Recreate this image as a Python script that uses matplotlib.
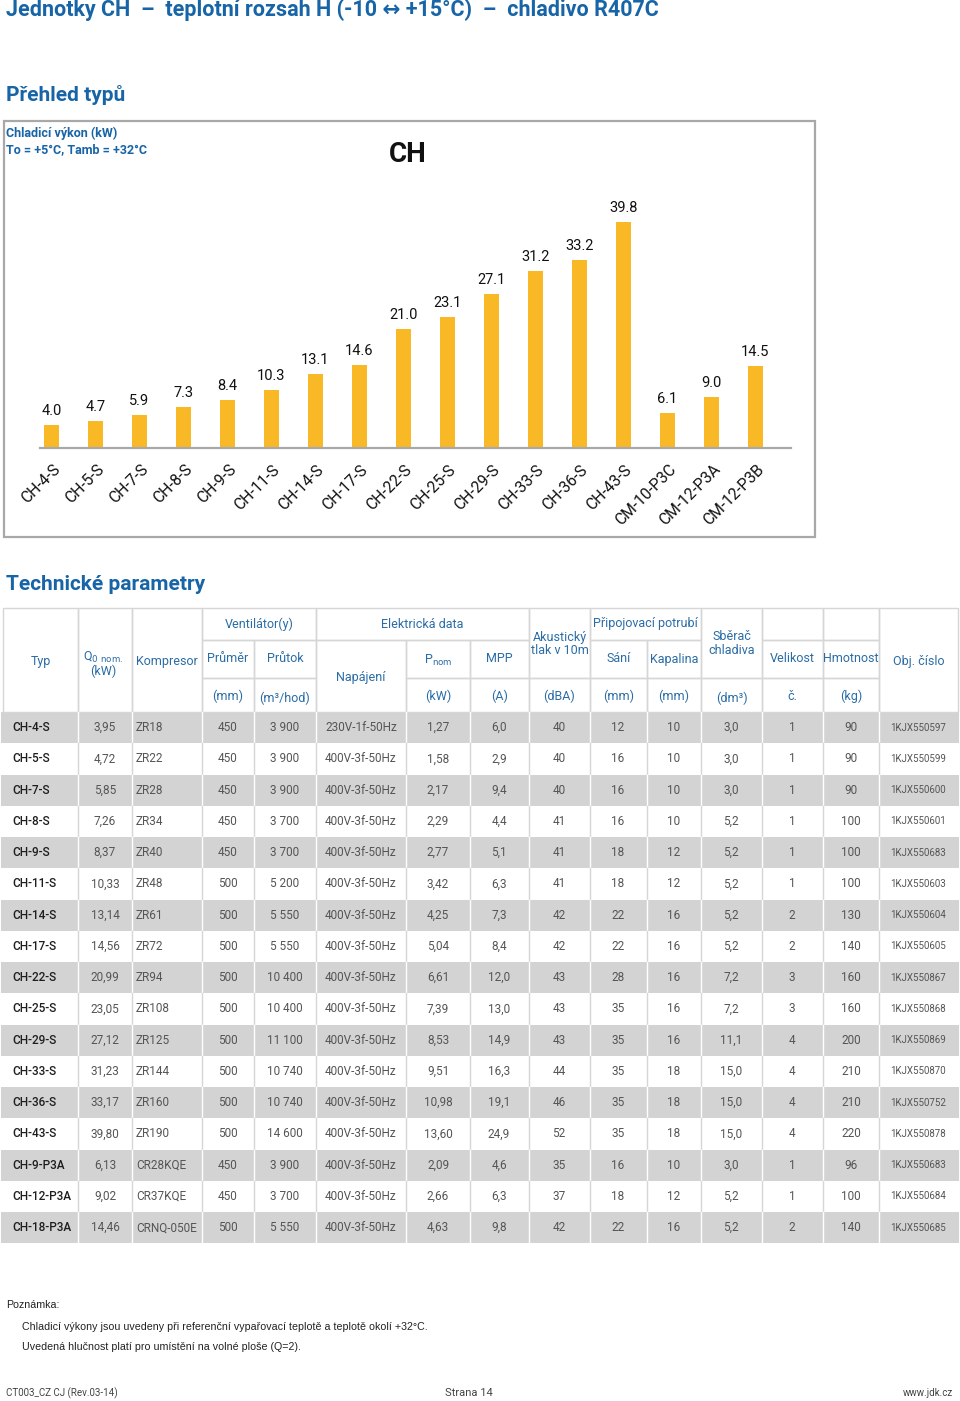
import matplotlib
matplotlib.use("Agg")
import matplotlib.pyplot as plt
from matplotlib.patches import Rectangle

plt.rcParams['font.family'] = ['Roboto', 'DejaVu Sans']

# --- bar chart data (Chladicí výkon, kW) ---
models = ['CH-4-S', 'CH-5-S', 'CH-7-S', 'CH-8-S', 'CH-9-S', 'CH-11-S', 'CH-14-S',
          'CH-17-S', 'CH-22-S', 'CH-25-S', 'CH-29-S', 'CH-33-S', 'CH-36-S',
          'CH-43-S', 'CM-10-P3C', 'CM-12-P3A', 'CM-12-P3B']
capacity = [4.0, 4.7, 5.9, 7.3, 8.4, 10.3, 13.1, 14.6, 21.0, 23.1, 27.1, 31.2,
            33.2, 39.8, 6.1, 9.0, 14.5]

# --- table data ---
typ = ['CH-4-S', 'CH-5-S', 'CH-7-S', 'CH-8-S', 'CH-9-S', 'CH-11-S', 'CH-14-S',
       'CH-17-S', 'CH-22-S', 'CH-25-S', 'CH-29-S', 'CH-33-S', 'CH-36-S',
       'CH-43-S', 'CH-9-P3A', 'CH-12-P3A', 'CH-18-P3A']
q0 = ['3,95', '4,72', '5,85', '7,26', '8,37', '10,33', '13,14', '14,56', '20,99',
      '23,05', '27,12', '31,23', '33,17', '39,80', '6,13', '9,02', '14,46']
kompresor = ['ZR18', 'ZR22', 'ZR28', 'ZR34', 'ZR40', 'ZR48', 'ZR61', 'ZR72', 'ZR94',
             'ZR108', 'ZR125', 'ZR144', 'ZR160', 'ZR190', 'CR28KQE', 'CR37KQE',
             'CRNQ-050E']
prumer = ['450', '450', '450', '450', '450', '500', '500', '500', '500', '500',
          '500', '500', '500', '500', '450', '450', '500']
prutok = ['3 900', '3 900', '3 900', '3 700', '3 700', '5 200', '5 550', '5 550',
          '10 400', '10 400', '11 100', '10 740', '10 740', '14 600', '3 900',
          '3 700', '5 550']
napajeni = ['230V-1f-50Hz'] + ['400V-3f-50Hz'] * 16
pnom = ['1,27', '1,58', '2,17', '2,29', '2,77', '3,42', '4,25', '5,04', '6,61',
        '7,39', '8,53', '9,51', '10,98', '13,60', '2,09', '2,66', '4,63']
mpp = ['6,0', '2,9', '9,4', '4,4', '5,1', '6,3', '7,3', '8,4', '12,0', '13,0',
       '14,9', '16,3', '19,1', '24,9', '4,6', '6,3', '9,8']
hluk = ['40', '40', '40', '41', '41', '41', '42', '42', '43', '43', '43', '44',
        '46', '52', '35', '37', '42']
sani = ['12', '16', '16', '16', '18', '18', '22', '22', '28', '35', '35', '35',
        '35', '35', '16', '18', '22']
kapalina = ['10', '10', '10', '10', '12', '12', '16', '16', '16', '16', '16', '18',
            '18', '18', '10', '12', '16']
sberac = ['3,0', '3,0', '3,0', '5,2', '5,2', '5,2', '5,2', '5,2', '7,2', '7,2',
          '11,1', '15,0', '15,0', '15,0', '3,0', '5,2', '5,2']
velikost = ['1', '1', '1', '1', '1', '1', '2', '2', '3', '3', '4', '4', '4', '4',
            '1', '1', '2']
hmotnost = ['90', '90', '90', '100', '100', '100', '130', '140', '160', '160', '200',
            '210', '210', '220', '96', '100', '140']
obj_cislo = ['1KJX550597', '1KJX550599', '1KJX550600', '1KJX550601', '1KJX550683',
             '1KJX550603', '1KJX550604', '1KJX550605', '1KJX550867', '1KJX550868',
             '1KJX550869', '1KJX550870', '1KJX550752', '1KJX550878', '1KJX550683',
             '1KJX550684', '1KJX550685']

BLUE = '#1764a6'
HEAD_BLUE = '#2a6ca6'
BAR = '#f9b826'
GRID = '#d6d6d6'

W, H = 960, 1401
fig = plt.figure(figsize=(W / 100, H / 100), dpi=100)
page = fig.add_axes([0, 0, 1, 1])
page.set_xlim(0, W)
page.set_ylim(H, 0)
page.axis('off')

# titles
page.text(6, 10, 'Jednotky CH  –  teplotní rozsah H (-10 ↔ +15°C)  –  chladivo R407C',
          color=BLUE, fontsize=15.5, fontweight='bold', fontstyle='normal',
          va='center', ha='left')
page.text(6, 95, 'Přehled typů', color=BLUE, fontsize=15, fontweight='bold',
          va='center', ha='left')
page.text(6, 585, 'Technické parametry', color=BLUE, fontsize=15, fontweight='bold',
          va='center', ha='left')

# chart frame
page.add_patch(Rectangle((4, 121), 811, 416, fill=False, ec='#a8a8a8', lw=1.6))
page.text(6, 133, 'Chladicí výkon (kW)', color=BLUE, fontsize=9, fontweight='bold',
          va='center')
page.text(6, 150, 'To = +5°C, Tamb = +32°C', color=BLUE, fontsize=9, fontweight='bold',
          va='center')
page.text(408, 155, 'CH', color='#111111', fontsize=20, fontweight='bold',
          ha='center', va='center')

# bar chart axes
base_y, top_y = 448, 200
left_px, right_px = 40, 791
ax = fig.add_axes([left_px / W, (H - base_y) / H, (right_px - left_px) / W,
                   (base_y - top_y) / H])
ax.patch.set_alpha(0)
x = list(range(len(models)))
ax.bar(x, capacity, width=0.34, color=BAR, zorder=2)
ax.set_xlim((left_px - 51.5) / 44.0, (right_px - 51.5) / 44.0)
ax.set_ylim(0, (base_y - top_y) / 5.67)
for s in ['top', 'right', 'left']:
    ax.spines[s].set_visible(False)
ax.spines['bottom'].set_color('#a8a8a8')
ax.spines['bottom'].set_linewidth(1.6)
ax.set_yticks([])
ax.set_xticks([])
for i, (m, v) in enumerate(zip(models, capacity)):
    ax.annotate(f'{v:.1f}', (i, v), xytext=(0, 5), textcoords='offset points',
                ha='center', va='bottom', fontsize=10.5, color='#111111')
    ax.annotate(m, (i, 0), xytext=(0.5, -10), textcoords='offset points',
                ha='right', va='top', rotation=45, rotation_mode='anchor',
                fontsize=11.3, color='#111111', annotation_clip=False)

# --- table ---
col_x = [3, 78, 132, 202, 254, 316, 406, 470, 529, 590, 647, 701, 762, 823, 879, 958]
hdr_y = [608, 640, 678, 712]
row_h = 31.25
n_rows = len(typ)

# data rows background
for r in range(n_rows):
    y0 = hdr_y[3] + r * row_h
    if r % 2 == 0:
        page.add_patch(Rectangle((1, y0), 958, row_h, fc='#d3d3d3', ec='none'))
    for cx in col_x[1:-1]:
        page.plot([cx, cx], [y0, y0 + row_h], color='white' if r % 2 == 0 else GRID,
                  lw=1)

# header cells: (col0, col1, row0, row1, text, ypos)
header_cells = [
    (0, 1, 0, 3, 'Typ', 661),
    (1, 2, 0, 3, None, None),
    (2, 3, 0, 3, 'Kompresor', 661),
    (3, 5, 0, 1, 'Ventilátor(y)', 624),
    (3, 4, 1, 2, 'Průměr', 659),
    (4, 5, 1, 2, 'Průtok', 659),
    (3, 4, 2, 3, '(mm)', 696),
    (4, 5, 2, 3, '(m³/hod)', 698),
    (5, 8, 0, 1, 'Elektrická data', 624),
    (5, 6, 1, 3, 'Napájení', 677),
    (6, 7, 1, 2, None, None),
    (7, 8, 1, 2, 'MPP', 659),
    (6, 7, 2, 3, '(kW)', 696),
    (7, 8, 2, 3, '(A)', 696),
    (8, 9, 0, 2, 'Akustický\ntlak v 10m', 644),
    (8, 9, 2, 3, '(dBA)', 696),
    (9, 11, 0, 1, 'Připojovací potrubí', 624),
    (9, 10, 1, 2, 'Sání', 659),
    (10, 11, 1, 2, 'Kapalina', 659),
    (9, 10, 2, 3, '(mm)', 696),
    (10, 11, 2, 3, '(mm)', 696),
    (11, 12, 0, 2, 'Sběrač\nchladiva', 644),
    (11, 12, 2, 3, '(dm³)', 698),
    (12, 13, 0, 1, None, None),
    (13, 14, 0, 1, None, None),
    (12, 13, 1, 2, 'Velikost', 659),
    (13, 14, 1, 2, 'Hmotnost', 659),
    (12, 13, 2, 3, 'č.', 696),
    (13, 14, 2, 3, '(kg)', 696),
    (14, 15, 0, 3, 'Obj. číslo', 661),
]
for c0, c1, r0, r1, txt, ty in header_cells:
    x0, x1 = col_x[c0], col_x[c1]
    y0, y1 = hdr_y[r0], hdr_y[r1]
    page.add_patch(Rectangle((x0, y0), x1 - x0, y1 - y0, fill=False, ec=GRID, lw=1))
    if txt:
        page.text((x0 + x1) / 2, ty, txt, ha='center', va='center', fontsize=9,
                  color=HEAD_BLUE, linespacing=1.1)
# Q0 nom. and Pnom with subscripts
page.text(103, 657, r'Q$_{\mathrm{0\ nom.}}$', ha='center', va='center', fontsize=9,
          color=HEAD_BLUE)
page.text(103, 671, '(kW)', ha='center', va='center', fontsize=9, color=HEAD_BLUE)
page.text(438, 660, r'P$_{\mathrm{nom}}$', ha='center', va='center', fontsize=9,
          color=HEAD_BLUE)

# data text
centered_cols = [(105, q0), (228, prumer), (285, prutok), (361, napajeni), (438, pnom),
                 (499, mpp), (559, hluk), (618, sani), (674, kapalina),
                 (731, sberac), (792, velikost), (851, hmotnost)]
for r in range(n_rows):
    yc = hdr_y[3] + r * row_h + row_h / 2
    page.text(12, yc, typ[r], ha='left', va='center', fontsize=8.5,
              color='#1e1e1e', fontweight='medium')
    page.text(136, yc, kompresor[r], ha='left', va='center', fontsize=8.5,
              color='#555555')
    for cx, col in centered_cols:
        page.text(cx, yc, col[r], ha='center', va='center', fontsize=8.5,
                  color='#555555')
    page.text(918, yc, obj_cislo[r], ha='center', va='center', fontsize=7,
              color='#555555')

# notes and footer
note_font = ['Liberation Sans', 'DejaVu Sans']
page.text(6, 1305, 'Poznámka:', fontsize=7.7, color='#222222', va='center',
          family=note_font)
page.text(22, 1327, 'Chladicí výkony jsou uvedeny při referenční vypařovací teplotě '
          'a teplotě okolí +32°C.', fontsize=7.7, color='#222222', va='center',
          family=note_font)
page.text(22, 1347, 'Uvedená hlučnost platí pro umístění na volné ploše (Q=2).',
          fontsize=7.7, color='#222222', va='center', family=note_font)
page.text(6, 1393, 'CT003_CZ CJ (Rev.03-14)', fontsize=7, color='#444444', va='center')
page.text(445, 1393, 'Strana 14', fontsize=8, color='#444444', va='center')
page.text(953, 1393, 'www.jdk.cz', fontsize=7, color='#444444', va='center', ha='right')

fig.savefig('out.png', dpi=100)
